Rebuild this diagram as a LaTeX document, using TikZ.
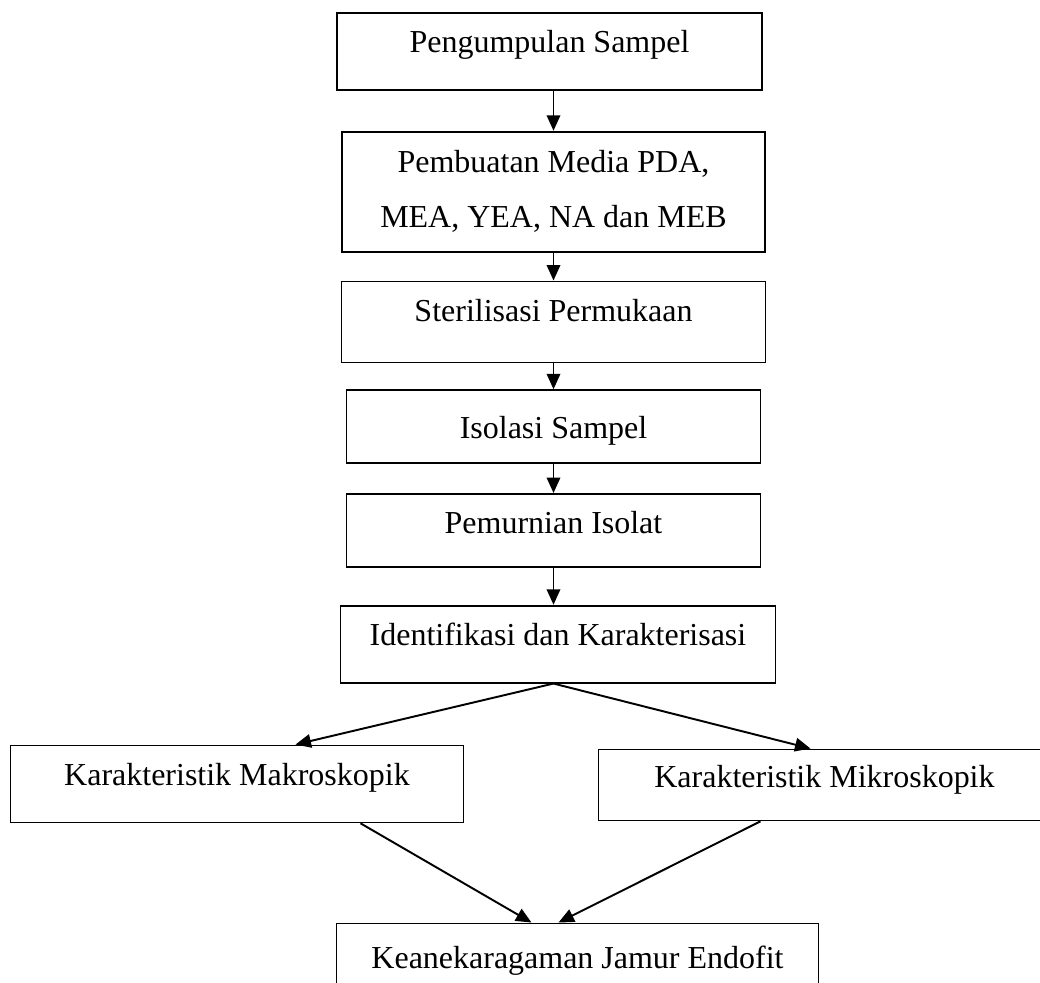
\documentclass[tikz,border=0pt]{standalone}
\usepackage{fontspec}
\setmainfont{Liberation Serif}
\usepackage{tikz}
\usetikzlibrary{arrows.meta, positioning}

\begin{document}
\begin{tikzpicture}[
    box/.style={draw, line width=1pt, inner xsep=0pt, inner ysep=0pt, align=center,
        font=\fontsize{18.2}{31.3}\selectfont, text height=0.8cm, text depth=0.74cm},
    arrow/.style={-{Triangle[length=3.1mm, width=2.7mm]}, line width=1.1pt}
]
    \useasboundingbox (0,0) rectangle (20.8,-19.66);

    \node[box, minimum width=8.5cm, anchor=north] (b1) at (10.99,-0.24) {Pengumpulan Sampel};
    \node[box, minimum width=8.46cm, below=0.8cm of b1, xshift=0.08cm,
        text height=, text depth=, minimum height=2.4cm] (b2) {Pembuatan Media PDA,\\ MEA, YEA, NA dan MEB};
    \node[box, minimum width=8.48cm, below=0.56cm of b2, text depth=0.82cm] (b3) {Sterilisasi Permukaan};
    \node[box, minimum width=8.28cm, below=0.52cm of b3, text height=0.96cm, text depth=0.5cm] (b4) {Isolasi Sampel};
    \node[box, minimum width=8.28cm, below=0.58cm of b4, text depth=0.66cm] (b5) {Pemurnian Isolat};
    \node[box, minimum width=8.7cm, below=0.74cm of b5, xshift=0.09cm] (b6) {Identifikasi dan Karakterisasi};

    \node[box, minimum width=9.06cm, below=1.22cm of b6, xshift=-6.42cm] (mak) {Karakteristik Makroskopik};
    \node[box, minimum width=9.04cm, below=1.3cm of b6, xshift=5.33cm, text height=0.76cm, text depth=0.66cm] (mik) {Karakteristik Mikroskopik};

    \node[box, minimum width=9.64cm, below=4.78cm of b6, xshift=0.39cm, text height=0.9cm, text depth=0.9cm] (b9) {Keanekaragaman Jamur Endofit};

    \draw[arrow] (b1.south -| b2) -- (b2);
    \draw[arrow] (b2) -- (b3);
    \draw[arrow] (b3) -- (b4);
    \draw[arrow] (b4) -- (b5);
    \draw[arrow] (b5) -- (b6.north -| b5);

    \draw[arrow] (b6.south -| b5) -- ([xshift=1.17cm]mak.north);
    \draw[arrow] (b6.south -| b5) -- ([xshift=-0.28cm]mik.north);
    \draw[arrow] ([xshift=2.47cm]mak.south) -- ([xshift=-0.92cm]b9.north);
    \draw[arrow] ([xshift=-1.28cm]mik.south) -- ([xshift=-0.38cm]b9.north);
\end{tikzpicture}
\end{document}
